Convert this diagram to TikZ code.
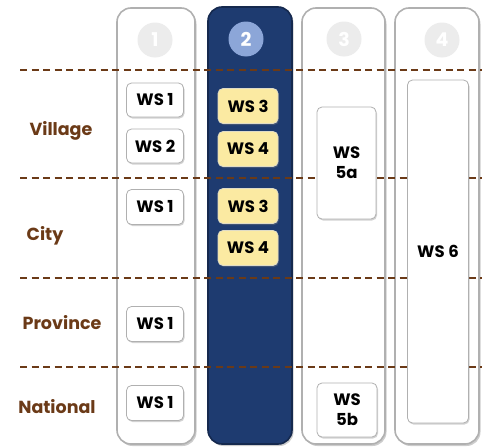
\documentclass[tikz,border=0pt]{standalone}
\usepackage{fontspec}
\setmainfont{Poppins}
\usetikzlibrary{shadows}
\definecolor{brownline}{HTML}{6B3A17}
\definecolor{navy}{HTML}{1E3B70}
\definecolor{paleblue}{HTML}{8CA6D8}
\definecolor{numgrey}{HTML}{ECECEC}
\definecolor{butter}{HTML}{FBEAA2}
\definecolor{rimgrey}{HTML}{B0B0B0}
\tikzset{
  lane/.style={draw=rimgrey, line width=1.6pt, fill=white, rounded corners=14pt,
    drop shadow={shadow xshift=1.5pt, shadow yshift=-2pt, opacity=0.4}},
  activelane/.style={lane, draw=navy!70!black, fill=navy},
  numdisc/.style={circle, fill=numgrey, minimum size=35pt, inner sep=0pt,
    text=white, font=\bfseries\fontsize{19}{19}\selectfont},
  wsbox/.style={draw=rimgrey, line width=0.8pt, fill=white, rounded corners=5pt,
    drop shadow={shadow xshift=1pt, shadow yshift=-1.5pt, opacity=0.35},
    font=\bfseries\fontsize{16.5}{20}\selectfont, align=center, inner sep=0pt},
  ybox/.style={wsbox, fill=butter, draw=butter!70!black!40},
  level/.style={draw=brownline, line width=2.4pt, dash pattern=on 7pt off 4.5pt},
  levelname/.style={text=brownline, font=\bfseries\fontsize{17.5}{18}\selectfont}
}
\begin{document}
\begin{tikzpicture}[x=1pt,y=-1pt]
\useasboundingbox (0,0) rectangle (482,447);

% four vertical lanes
\draw[lane] (117,8) rectangle (195,444);
\draw[activelane] (208,7) rectangle (292,444);
\draw[lane] (302,8) rectangle (385,444);
\draw[lane] (395,8) rectangle (479,444);

% lane numbers
\node[numdisc] (n1) at (155,40) {1};
\node[numdisc, fill=paleblue] (n2) at (246,39) {2};
\node[numdisc] (n3) at (344,39) {3};
\node[numdisc] (n4) at (442,40) {4};

% level separators
\coordinate (l1a) at (20,70);  \coordinate (l1b) at (482,70);
\coordinate (l2a) at (20,178); \coordinate (l2b) at (482,178);
\coordinate (l3a) at (20,278); \coordinate (l3b) at (482,278);
\coordinate (l4a) at (20,367); \coordinate (l4b) at (482,367);
\draw[level] (l1a) -- (l1b);
\draw[level] (l2a) -- (l2b);
\draw[level] (l3a) -- (l3b);
\draw[level] (l4a) -- (l4b);

% level names
\node[levelname] (village) at (61,131) {Village};
\node[levelname] (city) at (45,236) {City};
\node[levelname] (province) at (62,323) {Province};
\node[levelname] (national) at (57,407) {National};

% lane 1
\node[wsbox, minimum width=57pt, minimum height=34pt] (a1) at (155,100) {WS 1};
\node[wsbox, minimum width=57pt, minimum height=34pt] (a2) at (155,146) {WS 2};
\node[wsbox, minimum width=57pt, minimum height=35pt] (a3) at (155,207) {WS 1};
\node[wsbox, minimum width=57pt, minimum height=35pt] (a4) at (155,324) {WS 1};
\node[wsbox, minimum width=57pt, minimum height=35pt] (a5) at (155,403) {WS 1};

% lane 2
\node[ybox, minimum width=60pt, minimum height=35pt] (b1) at (248,106) {WS 3};
\node[ybox, minimum width=60pt, minimum height=35pt] (b2) at (248,149) {WS 4};
\node[ybox, minimum width=60pt, minimum height=35pt] (b3) at (248,206) {WS 3};
\node[ybox, minimum width=60pt, minimum height=35pt] (b4) at (248,248) {WS 4};

% lane 3
\node[wsbox, minimum width=59pt, minimum height=112pt] (c1) at (346.5,163) {WS\\5a};
\node[wsbox, minimum width=60pt, minimum height=54pt] (c2) at (347,410) {WS\\5b};

% lane 4
\node[wsbox, minimum width=61pt, minimum height=343pt] (d1) at (438,251.5) {WS 6};
\end{tikzpicture}
\end{document}
